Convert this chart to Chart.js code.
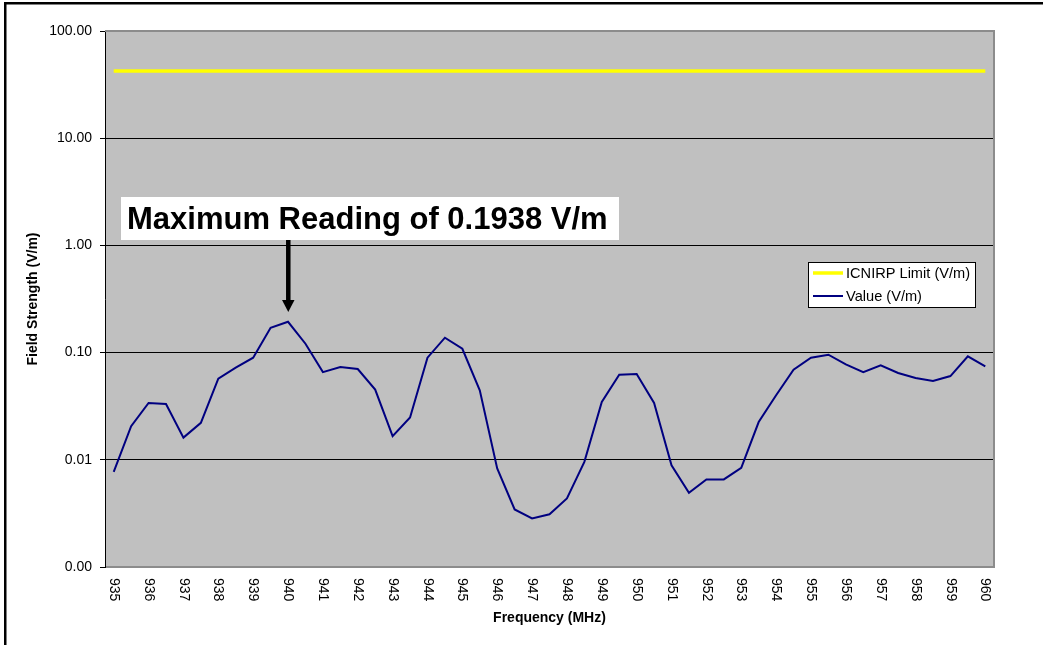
<!DOCTYPE html>
<html>
<head>
<meta charset="utf-8">
<title>Field Strength</title>
<script src="https://cdn.jsdelivr.net/npm/chart.js@4/dist/chart.umd.min.js"></script>
<style>
  body { margin: 0; background: #fff; }
  canvas { display: block; }
</style>
</head>
<body>
<canvas id="fieldChart" width="1043" height="645"></canvas>
<script>

// ================= DATA =================

const freq = [
  935, 935.5, 936, 936.5, 937, 937.5, 938, 938.5, 939, 939.5,
  940, 940.5, 941, 941.5, 942, 942.5, 943, 943.5, 944, 944.5,
  945, 945.5, 946, 946.5, 947, 947.5, 948, 948.5, 949, 949.5,
  950, 950.5, 951, 951.5, 952, 952.5, 953, 953.5, 954, 954.5,
  955, 955.5, 956, 956.5, 957, 957.5, 958, 958.5, 959, 959.5,
  960
];

const fieldValue = [
  0.0077, 0.0206, 0.0339, 0.0332, 0.0161, 0.0221, 0.0571, 0.0723, 0.0896, 0.1706,
  0.1938, 0.121, 0.0658, 0.0733, 0.0702, 0.0452, 0.0166, 0.0248, 0.0896, 0.1377,
  0.1086, 0.0445, 0.0083, 0.00344, 0.00284, 0.0031, 0.00436, 0.00956, 0.0346, 0.0622,
  0.0631, 0.0339, 0.0089, 0.00492, 0.00656, 0.00656, 0.0084, 0.0225, 0.040, 0.0694,
  0.0896, 0.0956, 0.0776, 0.0658, 0.076, 0.0645, 0.0579, 0.0543, 0.0604, 0.0922,
  0.0745
];

const icnirpLimit = [
  42.3, 42.3, 42.3, 42.3, 42.3, 42.3, 42.3, 42.3, 42.3, 42.3,
  42.3, 42.3, 42.3, 42.3, 42.3, 42.3, 42.3, 42.3, 42.3, 42.3,
  42.3, 42.3, 42.3, 42.3, 42.3, 42.3, 42.3, 42.3, 42.3, 42.3,
  42.3, 42.3, 42.3, 42.3, 42.3, 42.3, 42.3, 42.3, 42.3, 42.3,
  42.3, 42.3, 42.3, 42.3, 42.3, 42.3, 42.3, 42.3, 42.3, 42.3,
  42.3
];

const yTicks = [0.001, 0.01, 0.1, 1, 10, 100];

const FONT = '"Liberation Sans", Arial, sans-serif';


// ================= DRAWING HELPERS =================

const decorPlugin = {
  id: "decor",

  beforeDraw(chart) {
    const ctx = chart.ctx;
    const a = chart.chartArea;
    ctx.save();
    ctx.fillStyle = "#ffffff";
    ctx.fillRect(0, 0, chart.width, chart.height);

    // outer frame (left and top only are visible)
    ctx.fillStyle = "#000000";
    ctx.fillRect(4, 2, chart.width, 2.5);
    ctx.fillRect(4, 2, 2.5, chart.height);

    ctx.fillStyle = "#c0c0c0";
    ctx.fillRect(a.left, a.top, a.right - a.left, a.bottom - a.top);
    ctx.restore();
  },

  beforeDatasetsDraw(chart) {
    const ctx = chart.ctx;
    const a = chart.chartArea;
    ctx.save();
    ctx.strokeStyle = "#8c8c8c";
    ctx.lineWidth = 2;
    ctx.beginPath();
    ctx.moveTo(a.left, a.top);
    ctx.lineTo(a.right, a.top);
    ctx.lineTo(a.right, a.bottom);
    ctx.lineTo(a.left + 1, a.bottom);
    ctx.stroke();
    ctx.restore();
  },

  afterDraw(chart) {
    const ctx = chart.ctx;
    const a = chart.chartArea;
    const xs = chart.scales.x;
    ctx.save();

    // x tick labels, rotated clockwise
    ctx.fillStyle = "#000";
    ctx.font = "14px " + FONT;
    ctx.textAlign = "left";
    ctx.textBaseline = "middle";
    freq.forEach((f, i) => {
      if (!Number.isInteger(f)) return;
      const x = xs.getPixelForValue(i);
      ctx.save();
      ctx.translate(x, a.bottom + 11);
      ctx.rotate(Math.PI / 2);
      ctx.fillText(String(f), 0, 0);
      ctx.restore();
    });

    // axis titles
    ctx.font = "bold 14px " + FONT;
    ctx.textAlign = "center";
    ctx.fillText("Frequency (MHz)", (a.left + a.right) / 2, 618);
    ctx.save();
    ctx.translate(33, (a.top + a.bottom) / 2);
    ctx.rotate(-Math.PI / 2);
    ctx.fillText("Field Strength (V/m)", 0, 0);
    ctx.restore();

    // legend
    ctx.fillStyle = "#fff";
    ctx.fillRect(808.5, 262.5, 167, 45);
    ctx.strokeStyle = "#000";
    ctx.lineWidth = 1;
    ctx.strokeRect(808.5, 262.5, 167, 45);
    const items = chart.data.datasets;
    const rowY = [273, 296];
    items.forEach((ds, i) => {
      ctx.strokeStyle = ds.borderColor;
      ctx.lineWidth = ds.borderWidth;
      ctx.beginPath();
      ctx.moveTo(813, rowY[i]);
      ctx.lineTo(843, rowY[i]);
      ctx.stroke();
      ctx.fillStyle = "#000";
      ctx.font = "14.6px " + FONT;
      ctx.textAlign = "left";
      ctx.fillText(ds.label, 846, rowY[i] + 1);
    });

    // maximum reading callout
    const maxIdx = fieldValue.indexOf(Math.max(...fieldValue));
    const ax = xs.getPixelForValue(maxIdx);
    ctx.fillStyle = "#fff";
    ctx.fillRect(121, 197, 498, 43);
    ctx.fillStyle = "#000";
    ctx.font = "bold 31px " + FONT;
    ctx.textAlign = "left";
    ctx.textBaseline = "middle";
    ctx.fillText("Maximum Reading of " + fieldValue[maxIdx].toFixed(4) + " V/m", 127, 220);

    ctx.fillRect(ax - 2, 240, 4.5, 61);
    ctx.beginPath();
    ctx.moveTo(ax - 6, 300);
    ctx.lineTo(ax + 6.5, 300);
    ctx.lineTo(ax + 0.25, 312);
    ctx.closePath();
    ctx.fill();

    ctx.restore();
  }
};


// ================= FIELD STRENGTH CHART =================

const fieldChart = document.getElementById("fieldChart");

if (fieldChart) {

  new Chart(fieldChart, {

    type: "line",

    data: {
      labels: freq,
      datasets: [
        {
          label: "ICNIRP Limit (V/m)",
          data: icnirpLimit,
          borderColor: "#ffff00",
          borderWidth: 3.5,
          pointRadius: 0,
          tension: 0
        },
        {
          label: "Value (V/m)",
          data: fieldValue,
          borderColor: "#000080",
          borderWidth: 2,
          pointRadius: 0,
          tension: 0
        }
      ]
    },

    options: {
      responsive: false,
      animation: false,
      layout: {
        padding: { left: 0, top: 31, right: 49, bottom: 0 }
      },
      plugins: {
        legend: { display: false },
        tooltip: { enabled: false }
      },
      scales: {
        x: {
          type: "category",
          offset: true,
          grid: { display: false },
          border: { display: false },
          ticks: { display: false },
          afterFit(scale) { scale.height = 78; }
        },
        y: {
          type: "logarithmic",
          min: 0.001,
          max: 100,
          afterBuildTicks(scale) {
            scale.ticks = yTicks.map(v => ({ value: v }));
          },
          afterFit(scale) { scale.width = 105; },
          ticks: {
            color: "#000",
            font: { family: FONT, size: 14 },
            padding: 8,
            callback: v => Number(v).toFixed(2)
          },
          grid: {
            color: ctx => (ctx.tick && (ctx.tick.value === 100 || ctx.tick.value === 0.001)) ? "rgba(0,0,0,0)" : "#000",
            tickColor: "#000",
            tickLength: 5,
            lineWidth: 1
          },
          border: { display: true, color: "#000", width: 1 }
        }
      }
    },

    plugins: [decorPlugin]

  });

}

</script>
</body>
</html>
